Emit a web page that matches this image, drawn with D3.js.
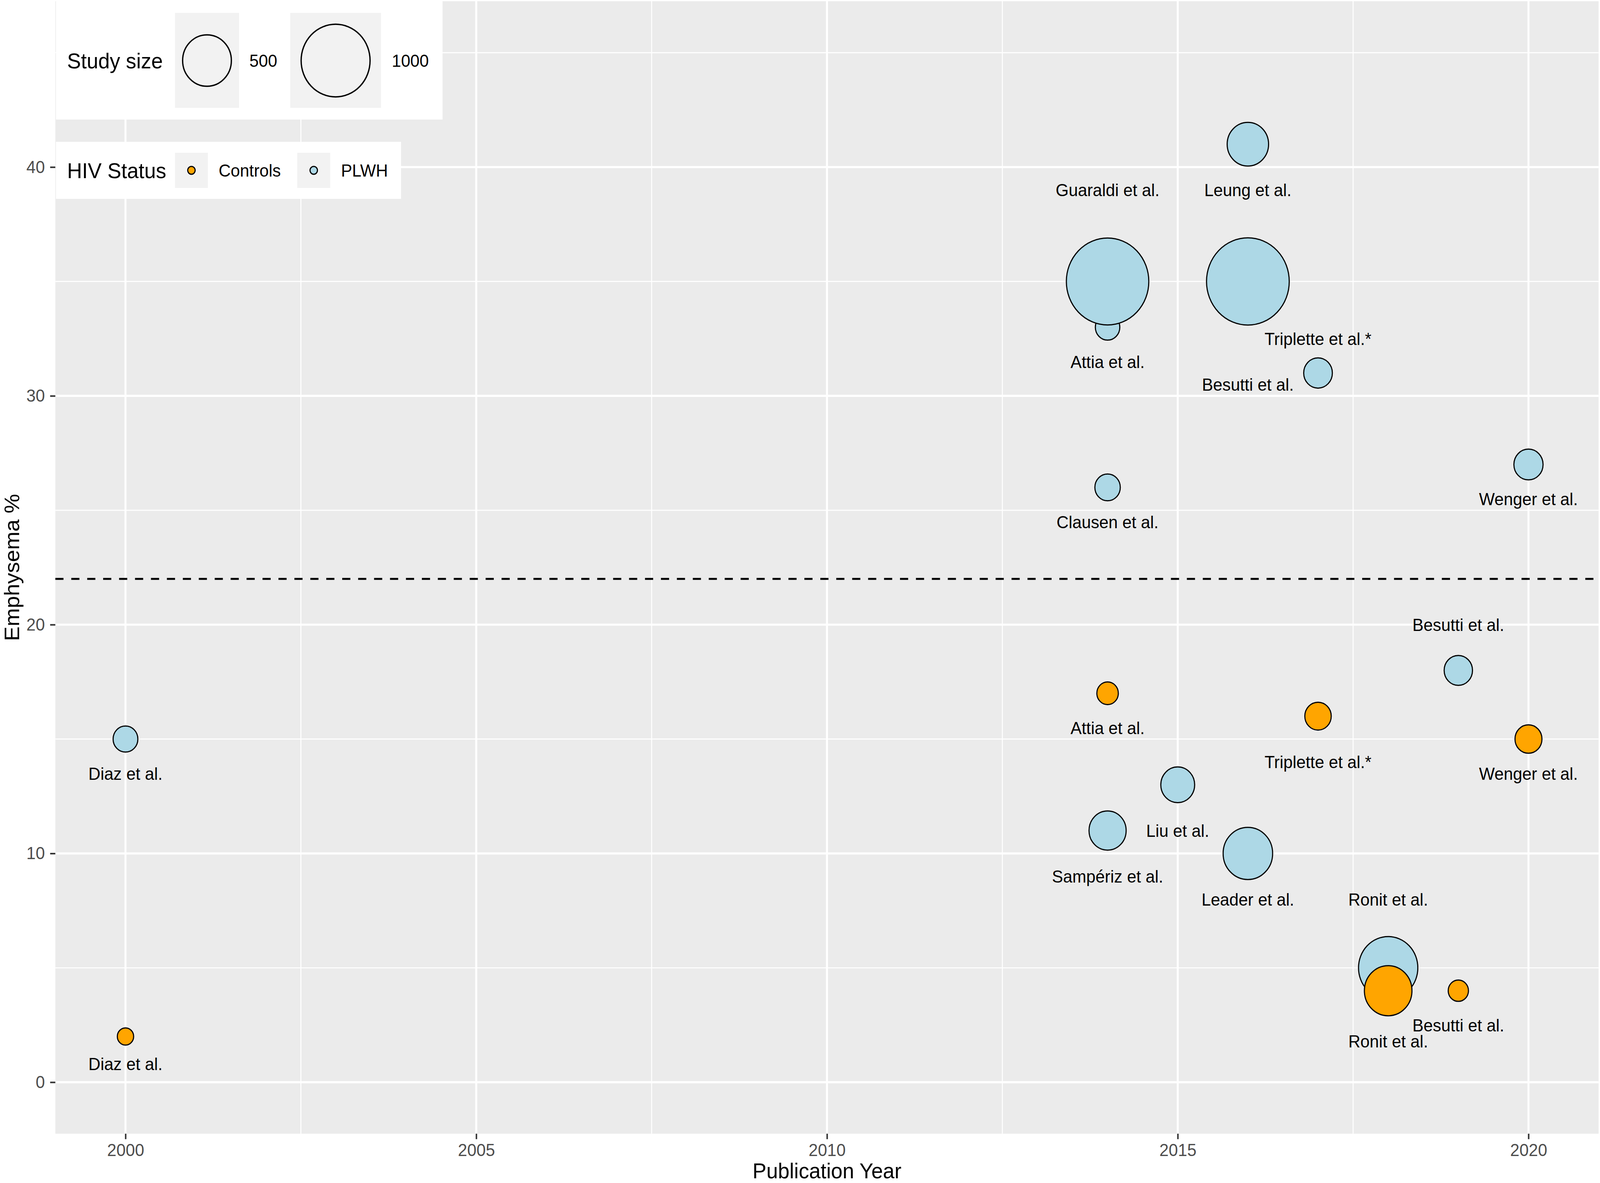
<!DOCTYPE html>
<html>
<head>
<meta charset="utf-8">
<script src="https://cdnjs.cloudflare.com/ajax/libs/d3/7.8.5/d3.min.js"></script>
<style>
  html, body { margin: 0; padding: 0; background: #fff; overflow: hidden; }
  #chart { width: 100vw; height: 100vh; }
  svg { display: block; width: 100%; height: 100%; }
  text { font-family: "Liberation Sans", Arial, Helvetica, sans-serif; }
</style>
</head>
<body>
<div id="chart"></div>
<script>
// 感染者组 (PLWH)
const plwhStudy  = ['Diaz et al.', 'Attia et al.', 'Guaraldi et al.', 'Clausen et al.', 'Sampériz et al.', 'Liu et al.', 'Leung et al.', 'Besutti et al.', 'Leader et al.', 'Triplette et al.*', 'Ronit et al.', 'Besutti et al.', 'Wenger et al.'];
const plwhYear   = [2000, 2014, 2014, 2014, 2014, 2015, 2016, 2016, 2016, 2017, 2018, 2019, 2020];
const plwhValue  = [15, 33, 35, 26, 11, 13, 41, 35, 10, 31, 5, 18, 27];
const plwhSize   = [129, 126, 1430, 136, 290, 241, 361, 1440, 516, 173, 740, 169, 179];
const plwhLabelY = [13.5, 31.5, 39, 24.5, 9, 11, 39, 30.5, 8, 32.5, 8, 20, 25.5];

// 对照组 (Controls)
const ctrlStudy  = ['Diaz et al.', 'Attia et al.', 'Triplette et al.*', 'Ronit et al.', 'Besutti et al.', 'Wenger et al.'];
const ctrlYear   = [2000, 2014, 2017, 2018, 2019, 2020];
const ctrlValue  = [2, 17, 16, 4, 4, 15];
const ctrlSize   = [56, 97, 147, 476, 86, 153];
const ctrlLabelY = [0.8, 15.5, 14, 1.8, 2.5, 13.5];

const xTicks = [2000, 2005, 2010, 2015, 2020];
const xMinor = [2002.5, 2007.5, 2012.5, 2017.5];
const yTicks = [0, 10, 20, 30, 40];
const yMinor = [5, 15, 25, 35, 45];
const sizeBreaks = [500, 1000];
const statusLevels = ['Controls', 'PLWH'];
const pooledLine = 22;

// 组装数据行 (PLWH 先画, 对照后画)
const rows = [];
plwhStudy.forEach((s, i) => rows.push({ study: s, status: 'PLWH', year: plwhYear[i], value: plwhValue[i], n: plwhSize[i], ly: plwhLabelY[i] }));
ctrlStudy.forEach((s, i) => rows.push({ study: s, status: 'Controls', year: ctrlYear[i], value: ctrlValue[i], n: ctrlSize[i], ly: ctrlLabelY[i] }));

const width = 4317, height = 3028;
const panel = { left: 149.3, right: 4313.3, top: 3.1, bottom: 2901.8 };

// 画布铺满窗口
const svg = d3.select('#chart').append('svg')
  .attr('viewBox', `0 0 ${width} ${height}`)
  .attr('preserveAspectRatio', 'none')
  .attr('xmlns', 'http://www.w3.org/2000/svg');

svg.append('rect').attr('width', width).attr('height', height).attr('fill', '#fff');

const x = d3.scaleLinear().domain([1999, 2021]).range([panel.left, panel.right]);
const y = d3.scaleLinear().domain([-2.25, 47.25]).range([panel.bottom, panel.top]);
const r = d3.scaleSqrt().domain([0, 1000]).range([0, 93]);
const fill = d3.scaleOrdinal().domain(statusLevels).range(['#FFA500', '#ADD8E6']);

// 面板背景
svg.append('rect')
  .attr('x', panel.left).attr('y', panel.top)
  .attr('width', panel.right - panel.left).attr('height', panel.bottom - panel.top)
  .attr('fill', '#EBEBEB');

const grid = svg.append('g');
grid.selectAll('.vminor').data(xMinor).enter().append('line')
  .attr('x1', d => x(d)).attr('x2', d => x(d))
  .attr('y1', panel.top).attr('y2', panel.bottom)
  .attr('stroke', '#fff').attr('stroke-width', 2.7);
grid.selectAll('.hminor').data(yMinor).enter().append('line')
  .attr('y1', d => y(d)).attr('y2', d => y(d))
  .attr('x1', panel.left).attr('x2', panel.right)
  .attr('stroke', '#fff').attr('stroke-width', 2.7);
grid.selectAll('.vmajor').data(xTicks).enter().append('line')
  .attr('x1', d => x(d)).attr('x2', d => x(d))
  .attr('y1', panel.top).attr('y2', panel.bottom)
  .attr('stroke', '#fff').attr('stroke-width', 5.4);
grid.selectAll('.hmajor').data(yTicks).enter().append('line')
  .attr('y1', d => y(d)).attr('y2', d => y(d))
  .attr('x1', panel.left).attr('x2', panel.right)
  .attr('stroke', '#fff').attr('stroke-width', 5.4);

// 参考虚线
svg.append('line')
  .attr('x1', panel.left).attr('x2', panel.right)
  .attr('y1', y(pooledLine)).attr('y2', y(pooledLine))
  .attr('stroke', '#000').attr('stroke-width', 5)
  .attr('stroke-dasharray', '22,21');

// 气泡
svg.append('g').selectAll('circle').data(rows).enter().append('circle')
  .attr('cx', d => x(d.year)).attr('cy', d => y(d.value))
  .attr('r', d => r(d.n))
  .attr('fill', d => fill(d.status))
  .attr('stroke', '#000').attr('stroke-width', 3);

// 研究标签
svg.append('g').selectAll('text').data(rows).enter().append('text')
  .attr('x', d => x(d.year)).attr('y', d => y(d.ly))
  .attr('dy', '0.36em')
  .attr('text-anchor', 'middle')
  .style('font-size', '45px')
  .attr('fill', '#000')
  .text(d => d.study);

// 坐标轴
const xAxis = svg.append('g')
  .attr('transform', `translate(0,${panel.bottom})`)
  .call(d3.axisBottom(x).tickValues(xTicks).tickFormat(d3.format('d')).tickSize(14).tickPadding(11));
const yAxis = svg.append('g')
  .attr('transform', `translate(${panel.left},0)`)
  .call(d3.axisLeft(y).tickValues(yTicks).tickSize(14).tickPadding(14));
[xAxis, yAxis].forEach(ax => {
  ax.select('.domain').remove();
  ax.selectAll('.tick line').attr('stroke', '#333333').attr('stroke-width', 4);
  ax.selectAll('.tick text')
    .attr('fill', '#4D4D4D')
    .style('font-size', '45px')
    .style('font-family', '"Liberation Sans", Arial, sans-serif');
});

// 轴标题
svg.append('text')
  .attr('x', (panel.left + panel.right) / 2).attr('y', 3016)
  .attr('text-anchor', 'middle')
  .style('font-size', '56px')
  .text('Publication Year');
svg.append('text')
  .attr('transform', `translate(52,${(panel.top + panel.bottom) / 2}) rotate(-90)`)
  .attr('text-anchor', 'middle')
  .style('font-size', '56px')
  .text('Emphysema %');

// 图例: Study size
const sizeLegend = svg.append('g');
sizeLegend.append('rect').attr('x', 151).attr('y', 0).attr('width', 1043).attr('height', 306).attr('fill', '#fff');
sizeLegend.append('text').attr('x', 181).attr('y', 155).attr('dy', '0.36em')
  .style('font-size', '56px').text('Study size');
const sizeKeys = [
  { cx: 558.5, left: 472, w: 173, labelX: 673 },
  { cx: 905.5, left: 783, w: 245, labelX: 1057 }
];
sizeBreaks.forEach((b, i) => {
  const k = sizeKeys[i];
  sizeLegend.append('rect').attr('x', k.left).attr('y', 33).attr('width', k.w).attr('height', 243).attr('fill', '#F2F2F2');
  sizeLegend.append('circle').attr('cx', k.cx).attr('cy', 155).attr('r', r(b))
    .attr('fill', 'none').attr('stroke', '#000').attr('stroke-width', 3.5);
  sizeLegend.append('text').attr('x', k.labelX).attr('y', 155).attr('dy', '0.36em')
    .style('font-size', '45px').text(b);
});

// 图例: HIV Status
const statusLegend = svg.append('g');
statusLegend.append('rect').attr('x', 151).attr('y', 363).attr('width', 931).attr('height', 146).attr('fill', '#fff');
statusLegend.append('text').attr('x', 181).attr('y', 436).attr('dy', '0.36em')
  .style('font-size', '56px').text('HIV Status');
const statusKeys = [
  { left: 472, labelX: 590 },
  { left: 802, labelX: 920 }
];
statusLevels.forEach((s, i) => {
  const k = statusKeys[i];
  statusLegend.append('rect').attr('x', k.left).attr('y', 391).attr('width', 89).attr('height', 90).attr('fill', '#F2F2F2');
  statusLegend.append('circle').attr('cx', k.left + 44.5).attr('cy', 436).attr('r', 10)
    .attr('fill', fill(s)).attr('stroke', '#000').attr('stroke-width', 3);
  statusLegend.append('text').attr('x', k.labelX).attr('y', 436).attr('dy', '0.36em')
    .style('font-size', '45px').text(s);
});
</script>
</body>
</html>
